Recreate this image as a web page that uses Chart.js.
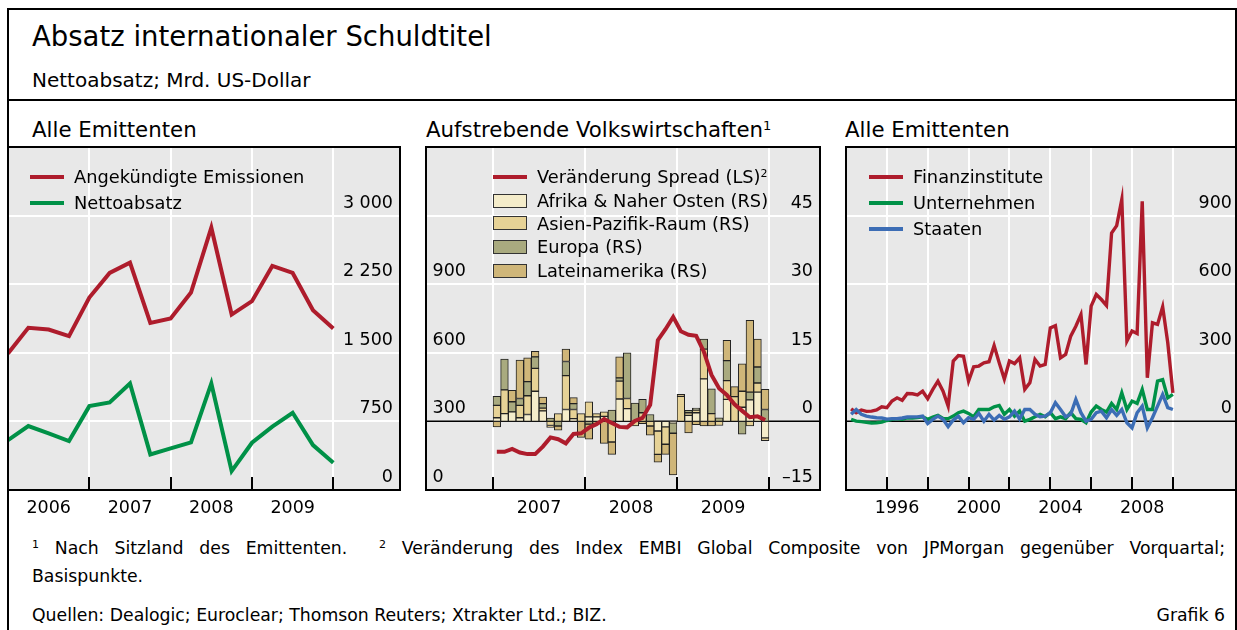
<!DOCTYPE html>
<html lang="de">
<head>
    <meta charset="UTF-8">
    <title>Absatz internationaler Schuldtitel</title>
    <script src="https://cdn.jsdelivr.net/npm/chart.js"></script>
    <style>
        body {
            margin: 0;
            background: #fff;
            font-family: "DejaVu Sans", sans-serif;
            color: #000;
        }
        #page {
            position: relative;
            width: 1237px;
            height: 630px;
            overflow: hidden;
        }
        .frame {
            position: absolute;
            left: 7px;
            top: 8px;
            width: 1226px;
            height: 700px;
            border: 2px solid #000;
        }
        .rule {
            position: absolute;
            left: 7px;
            top: 99px;
            width: 1230px;
            height: 2px;
            background: #000;
        }
        .txt {
            position: absolute;
            line-height: 1;
            white-space: nowrap;
        }
        .lg {
            position: absolute;
            line-height: 1;
            white-space: nowrap;
            font-size: 17.8px;
        }
        .sup {
            position: relative;
            top: -0.55em;
            font-size: 11px;
        }
        .line {
            position: absolute;
            width: 34px;
            height: 4px;
        }
        .box {
            position: absolute;
            width: 34px;
            height: 14px;
            box-sizing: border-box;
            border: 1.5px solid #333;
        }
        canvas {
            position: absolute;
        }
    </style>
</head>
<body>
<div id="page">
    <div class="frame"></div>
    <div class="rule"></div>

    <div class="txt" style="left:32px;top:22.7px;font-size:27.5px">Absatz internationaler Schuldtitel</div>
    <div class="txt" style="left:32px;top:70px;font-size:20px">Nettoabsatz; Mrd. US-Dollar</div>

    <div class="txt" style="left:32px;top:119px;font-size:21.3px">Alle Emittenten</div>
    <div class="txt" style="left:426px;top:119px;font-size:21.3px">Aufstrebende Volkswirtschaften<span class="sup" style="font-size:13px">1</span></div>
    <div class="txt" style="left:845px;top:119px;font-size:21.3px">Alle Emittenten</div>

    <canvas id="left" width="396" height="385" style="left:6px;top:145px"></canvas>
    <canvas id="mid" width="398" height="385" style="left:424px;top:145px"></canvas>
    <canvas id="right" width="394" height="385" style="left:844px;top:145px"></canvas>

    <!-- legends -->
    <div class="line" style="left:30px;top:175px;background:#ae1c2c"></div>
    <div class="lg" style="left:74px;top:168.4px">Angekündigte Emissionen</div>
    <div class="line" style="left:30px;top:201px;background:#009147"></div>
    <div class="lg" style="left:74px;top:194.4px">Nettoabsatz</div>

    <div class="line" style="left:493px;top:175px;background:#ae1c2c"></div>
    <div class="lg" style="left:537px;top:168.4px">Veränderung Spread (LS)<span class="sup">2</span></div>
    <div class="box" style="left:493px;top:193.7px;background:#f4ecca"></div>
    <div class="lg" style="left:537px;top:192.1px">Afrika &amp; Naher Osten (RS)</div>
    <div class="box" style="left:493px;top:216.3px;background:#e6d296"></div>
    <div class="lg" style="left:537px;top:214.7px">Asien-Pazifik-Raum (RS)</div>
    <div class="box" style="left:493px;top:239.7px;background:#a9aa7f"></div>
    <div class="lg" style="left:537px;top:238.1px">Europa (RS)</div>
    <div class="box" style="left:493px;top:263.7px;background:#cfb679"></div>
    <div class="lg" style="left:537px;top:262.1px">Lateinamerika (RS)</div>

    <div class="line" style="left:869px;top:175px;background:#ae1c2c"></div>
    <div class="lg" style="left:913px;top:168.4px">Finanzinstitute</div>
    <div class="line" style="left:869px;top:201px;background:#009147"></div>
    <div class="lg" style="left:913px;top:194.4px">Unternehmen</div>
    <div class="line" style="left:869px;top:227px;background:#3c6db5"></div>
    <div class="lg" style="left:913px;top:220.4px">Staaten</div>

    <!-- footnotes -->
    <div class="txt" style="left:32px;top:539.7px;width:1193px;font-size:17.3px;text-align:justify;text-align-last:justify"><span class="sup">1</span> Nach Sitzland des Emittenten.<span style="display:inline-block;width:16px"></span> <span class="sup">2</span> Veränderung des Index EMBI Global Composite von JPMorgan gegenüber Vorquartal;</div>
    <div class="txt" style="left:32px;top:567.7px;font-size:17.3px">Basispunkte.</div>
    <div class="txt" style="left:32px;top:606.7px;font-size:17.3px">Quellen: Dealogic; Euroclear; Thomson Reuters; Xtrakter Ltd.; BIZ.</div>
    <div class="txt" style="left:1100px;top:606.7px;width:125px;font-size:17.3px;text-align:right">Grafik 6</div>
</div>

<script>
    // ---- Alle Emittenten (quarterly, 2006-2009) ----
    const emQuarters = ['2005Q4', '2006Q1', '2006Q2', '2006Q3', '2006Q4', '2007Q1', '2007Q2', '2007Q3', '2007Q4',
        '2008Q1', '2008Q2', '2008Q3', '2008Q4', '2009Q1', '2009Q2', '2009Q3', '2009Q4'];
    const angekuendigt = [1493, 1773, 1754, 1682, 2104, 2373, 2486, 1827, 1875, 2159, 2868, 1918, 2064, 2450, 2373, 1966, 1765];
    const nettoabsatz = [546, 699, 619, 535, 917, 957, 1165, 389, 455, 520, 1165, 207, 517, 692, 844, 491, 298];
    const leftYearLabels = ['2006', '2007', '2008', '2009'];
    const leftYTicks = [0, 750, 1500, 2250, 3000];

    // ---- Aufstrebende Volkswirtschaften (monthly, 2007-2009) ----
    const emMonths = [];
    for (let y = 2007; y <= 2009; y++) {
        for (let m = 1; m <= 12; m++) emMonths.push(y + '-' + String(m).padStart(2, '0'));
    }
    const spread = [167, 167, 180, 164, 157, 157, 190, 230, 222, 204, 245, 248, 272, 288, 310, 293, 276, 274,
        302, 315, 372, 655, 703, 757, 694, 679, 674, 605, 503, 444, 416, 375, 346, 318, 322, 306];
    const afrika = [0.8, 1.7, 2.1, 0.8, 1.5, 6.6, 2.3, 0, 0, 2.6, 0.6, 0, 1.0, 1.0, 1.1, 0, 4.9, 2.8,
        0, 0, 0, -2.1, -1.2, -0.3, 0, 1.3, 1.9, 9.3, 0, 0, 4.8, 0, 3.1, 4.7, 6.4, -3.6];
    const asien = [2.7, 5.2, 0, 2.7, 4.1, 5.0, 0.6, -0.9, 1.7, 7.4, 2.0, 1.7, 3.3, 0.7, 1.0, -4.5, 3.9, 2.2,
        -1.0, 1.9, -1.0, -5.1, -3.8, 0, 5.5, 0.6, 0.6, 6.5, 1.7, -0.9, 4.1, 5.4, 3.5, -1.0, 2.0, -0.6];
    const europa = [2.0, 6.7, 2.2, 1.5, 3.1, 2.5, 1.0, 0.7, -1.0, 3.1, 1.3, 0, -0.6, 0, 0, 2.5, 0.7, 10.0,
        4.0, 2.9, 1.5, 0, 0, -2.3, 0, 0.5, 0.4, 2.2, 5.4, 0.8, 4.4, 0, -2.8, 1.7, 3.5, 2.6];
    const latein = [-1.2, 0, 2.5, 8.4, 5.2, 1.2, 1.4, -0.4, -0.9, 2.7, 1.3, -3.5, -3.3, -0.5, -4.8, -2.7, 4.6, 0,
        0, -0.5, -2.0, -1.7, -2.2, -9.1, 0.4, -2.5, -0.7, -1.0, -1.0, 0, 4.4, 2.2, 6.0, 15.7, 6.1, 4.4];
    const midYearLabels = ['2007', '2008', '2009'];
    const midLeftTicks = [0, 300, 600, 900];
    const midRightTicks = [-15, 0, 15, 30, 45];

    // ---- Alle Emittenten (quarterly, 1994-2009) ----
    const allQuarters = [];
    for (let y = 1994; y <= 2009; y++) {
        for (let q = 1; q <= 4; q++) allQuarters.push(y + 'Q' + q);
    }
    const finanz = [55, 38, 50, 44, 45, 50, 64, 60, 89, 103, 92, 122, 121, 116, 132, 99,
        140, 176, 132, 67, 264, 288, 285, 176, 239, 242, 256, 261, 332, 256, 185, 264,
        253, 278, 140, 169, 271, 242, 249, 409, 419, 278, 293, 373, 416, 467, 249, 504,
        555, 533, 507, 824, 856, 970, 351, 395, 384, 962, 191, 431, 424, 501, 344, 125];
    const unternehmen = [9, 1, -1, -4, -7, -6, -3, 4, 9, 12, 9, 15, 15, 17, 20, 9,
        19, 26, 13, 12, 23, 38, 45, 35, 20, 52, 52, 52, 64, 70, 31, 52,
        23, 45, 1, 9, 20, 31, 20, 38, 12, 20, 12, 38, 12, 9, -6, 41,
        67, 52, 41, 79, 52, 125, 52, 89, 79, 140, 52, 52, 176, 183, 103, 118];
    const staaten = [31, 52, 31, 23, 19, 16, 15, 10, 12, 12, 15, 19, 20, 20, 23, -9,
        9, 23, 9, -23, 6, 23, -6, 16, 9, 35, 1, 31, 6, 26, 9, 20,
        45, 10, 52, 52, 31, 20, 23, 38, 82, 52, 20, 31, 96, 38, 1, 9,
        38, 45, 16, 52, 26, 52, -6, -28, 38, 67, -28, 16, 67, 118, 60, 52];
    const rightYearLabels = ['1996', '2000', '2004', '2008'];
    const rightYTicks = [0, 300, 600, 900];

    const RED = '#ae1c2c';
    const GREEN = '#009147';
    const BLUE = '#3c6db5';
    const FONT = '17.5px "DejaVu Sans"';

    // quarter label -> position at quarter end, month label -> mid month
    function qPos(label) {
        const parts = label.split('Q');
        return Number(parts[0]) + Number(parts[1]) / 4;
    }
    function mPos(label) {
        const parts = label.split('-');
        return Number(parts[0]) + (Number(parts[1]) - 0.5) / 12;
    }
    function fmt(v) {
        const s = String(Math.abs(v)).replace(/\B(?=(\d{3})+(?!\d))/g, ' ');
        return (v < 0 ? '\u2013' : '') + s;
    }

    // draws plot background, grid, frame, inside ticks and labels
    function panelPlugin(opt) {
        return {
            id: 'panel',
            beforeDraw(chart) {
                const {ctx, chartArea: a} = chart;
                ctx.save();
                ctx.fillStyle = '#e8e8e8';
                ctx.fillRect(a.left, a.top, a.right - a.left, a.bottom - a.top);
                ctx.restore();
            },
            beforeDatasetsDraw(chart) {
                const {ctx, chartArea: a, scales} = chart;
                const gy = scales[opt.gridAxis];
                ctx.save();
                ctx.lineWidth = 2;
                ctx.strokeStyle = '#ffffff';
                ctx.beginPath();
                opt.xGrid.forEach(v => {
                    const px = Math.round(scales.x.getPixelForValue(v));
                    ctx.moveTo(px, a.top);
                    ctx.lineTo(px, a.bottom);
                });
                opt.yGrid.forEach(v => {
                    const py = Math.round(gy.getPixelForValue(v));
                    ctx.moveTo(a.left, py);
                    ctx.lineTo(a.right, py);
                });
                ctx.stroke();
                if (opt.zeroLine) {
                    const py = Math.round(gy.getPixelForValue(0)) + 0.25;
                    ctx.strokeStyle = '#000';
                    ctx.lineWidth = 1.5;
                    ctx.beginPath();
                    ctx.moveTo(a.left, py);
                    ctx.lineTo(a.right, py);
                    ctx.stroke();
                }
                ctx.restore();
            },
            afterDraw(chart) {
                const {ctx, chartArea: a, scales} = chart;
                ctx.save();
                ctx.strokeStyle = '#000';
                ctx.lineWidth = 2;
                ctx.beginPath();
                opt.xGrid.forEach(v => {
                    const px = Math.round(scales.x.getPixelForValue(v));
                    ctx.moveTo(px, a.bottom);
                    ctx.lineTo(px, a.bottom - 13);
                });
                ctx.stroke();
                ctx.strokeRect(a.left, a.top, a.right - a.left, a.bottom - a.top);

                ctx.fillStyle = '#000';
                ctx.font = FONT;
                ctx.textBaseline = 'middle';
                opt.yLabels.forEach(set => {
                    const sc = scales[set.axis];
                    ctx.textAlign = set.side;
                    const x = set.side === 'right' ? a.right - set.inset : a.left + set.inset;
                    set.values.forEach(v => {
                        ctx.fillText(fmt(v), x, sc.getPixelForValue(v) - 12.5);
                    });
                });
                ctx.textAlign = 'center';
                opt.xLabels.forEach(t => {
                    ctx.fillText(t, scales.x.getPixelForValue(Number(t) + 0.5), a.bottom + 18);
                });
                ctx.restore();
            }
        };
    }

    function lineSet(values, positions, color, width, order, axis) {
        return {
            type: 'line',
            data: values.map((v, i) => ({x: positions[i], y: v})),
            borderColor: color,
            borderWidth: width,
            pointRadius: 0,
            fill: false,
            tension: 0,
            order: order,
            yAxisID: axis || 'y'
        };
    }

    function baseOptions(xMin, xMax, yScales) {
        const scales = {x: {type: 'linear', min: xMin, max: xMax, display: false, offset: false, stacked: true}};
        Object.assign(scales, yScales);
        return {
            responsive: false,
            animation: false,
            devicePixelRatio: 1,
            layout: {padding: {left: 2, top: 2, right: 2, bottom: 40}},
            plugins: {legend: {display: false}, tooltip: {enabled: false}},
            scales: scales
        };
    }

    // left panel
    const leftPos = emQuarters.map(qPos);
    new Chart(document.getElementById('left'), {
        type: 'line',
        data: {
            datasets: [
                lineSet(angekuendigt, leftPos, RED, 4, 0),
                lineSet(nettoabsatz, leftPos, GREEN, 4, 1)
            ]
        },
        options: baseOptions(2006, 2010.82, {y: {min: 0, max: 3750, display: false}}),
        plugins: [panelPlugin({
            gridAxis: 'y',
            xGrid: [2007, 2008, 2009, 2010],
            yGrid: [750, 1500, 2250, 3000],
            zeroLine: false,
            yLabels: [{axis: 'y', values: leftYTicks, side: 'right', inset: 7}],
            xLabels: leftYearLabels
        })]
    });

    // middle panel
    const midPos = emMonths.map(mPos);
    function barSet(label, values, color) {
        return {
            type: 'bar',
            label: label,
            data: values.map((v, i) => ({x: midPos[i], y: v})),
            backgroundColor: color,
            borderColor: '#222',
            borderWidth: 1,
            borderSkipped: false,
            barPercentage: 1,
            categoryPercentage: 1,
            yAxisID: 'yR',
            order: 1
        };
    }
    new Chart(document.getElementById('mid'), {
        type: 'bar',
        data: {
            datasets: [
                lineSet(spread, midPos, RED, 4, 0, 'yL'),
                barSet('Afrika & Naher Osten', afrika, '#f4ecca'),
                barSet('Asien-Pazifik-Raum', asien, '#e6d296'),
                barSet('Europa', europa, '#a9aa7f'),
                barSet('Lateinamerika', latein, '#cfb679')
            ]
        },
        options: baseOptions(2006.272, 2010.554, {
            yL: {position: 'left', min: 0, max: 1500, display: false},
            yR: {position: 'right', min: -15, max: 60, display: false, stacked: true}
        }),
        plugins: [panelPlugin({
            gridAxis: 'yR',
            xGrid: [2007, 2008, 2009, 2010],
            yGrid: [15, 30, 45],
            zeroLine: true,
            yLabels: [
                {axis: 'yL', values: midLeftTicks, side: 'left', inset: 6.5},
                {axis: 'yR', values: midRightTicks, side: 'right', inset: 7}
            ],
            xLabels: midYearLabels
        })]
    });

    // right panel
    const rightPos = allQuarters.map(qPos);
    new Chart(document.getElementById('right'), {
        type: 'line',
        data: {
            datasets: [
                lineSet(finanz, rightPos, RED, 3.4, 3),
                lineSet(unternehmen, rightPos, GREEN, 3.4, 2),
                lineSet(staaten, rightPos, BLUE, 3.4, 1)
            ]
        },
        options: baseOptions(1994, 2013.09, {y: {min: -300, max: 1200, display: false}}),
        plugins: [panelPlugin({
            gridAxis: 'y',
            xGrid: [1996, 1998, 2000, 2002, 2004, 2006, 2008, 2010],
            yGrid: [300, 600, 900],
            zeroLine: true,
            yLabels: [{axis: 'y', values: rightYTicks, side: 'right', inset: 4}],
            xLabels: rightYearLabels
        })]
    });
</script>
</body>
</html>
